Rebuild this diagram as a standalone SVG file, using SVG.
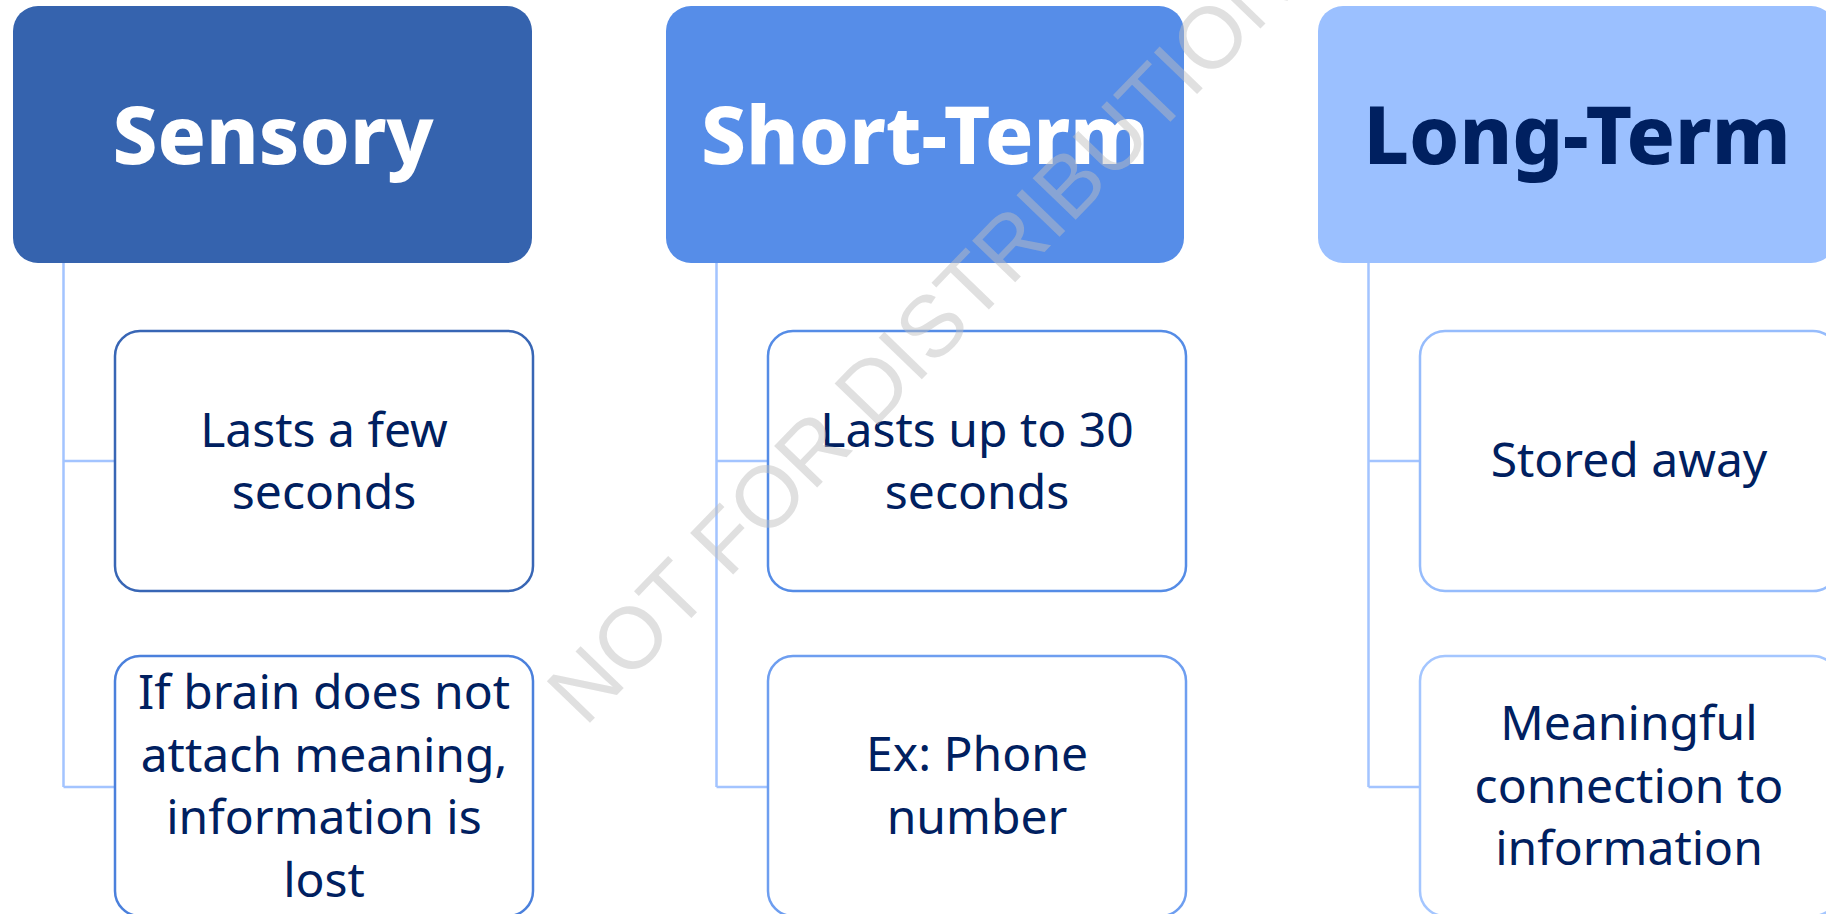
<svg xmlns="http://www.w3.org/2000/svg" width="1826" height="914" viewBox="0 0 1826 914">
<style>
.hdr{font-family:"Noto Sans","Open Sans","Liberation Sans",sans-serif;font-weight:800;font-size:80px;text-anchor:middle}
.lbl{font-family:"Noto Sans","Open Sans","Liberation Sans",sans-serif;font-size:48px;fill:#002060;text-anchor:middle}
.card{fill:#ffffff;stroke-width:2.5}
.conn{fill:none;stroke:#a3c4ff;stroke-width:2.5}
.wm{font-family:"Liberation Sans",Arial,sans-serif;font-size:87px;fill:#bfbfbf;fill-opacity:0.48}
</style>
<rect width="1826" height="914" fill="#ffffff"/>
<g id="connectors">
<path class="conn" d="M63.5 263V787M63.5 461H115M63.5 787H115"/>
<path class="conn" d="M716.5 263V787M716.5 461H768M716.5 787H768"/>
<path class="conn" d="M1368.5 263V787M1368.5 461H1420M1368.5 787H1420"/>
</g>
<g id="sensory">
<rect x="13" y="6" width="519" height="257" rx="25" fill="#3563ae"/>
<text class="hdr" x="273" y="164" fill="#ffffff">Sensory</text>
</g>
<g id="short-term">
<rect x="666" y="6" width="518" height="257" rx="25" fill="#568de8"/>
<text class="hdr" x="925" y="164" fill="#ffffff">Short-Term</text>
</g>
<g id="long-term">
<rect x="1318" y="6" width="518" height="257" rx="25" fill="#9bc0ff"/>
<text class="hdr" x="1577" y="164" fill="#002060">Long-Term</text>
</g>
<g id="sensory-1">
<rect class="card" x="115" y="331" width="418" height="260" rx="25" stroke="#3866b5"/>
<text class="lbl" x="324" y="447">Lasts a few</text>
<text class="lbl" x="324" y="509">seconds</text>
</g>
<g id="sensory-2">
<rect class="card" x="115" y="656" width="418" height="260" rx="25" stroke="#4b80dc"/>
<text class="lbl" x="324" y="709">If brain does not</text>
<text class="lbl" x="324" y="772">attach meaning,</text>
<text class="lbl" x="324" y="834">information is</text>
<text class="lbl" x="324" y="897">lost</text>
</g>
<g id="short-1">
<rect class="card" x="768" y="331" width="418" height="260" rx="25" stroke="#558ce6"/>
<text class="lbl" x="977" y="447">Lasts up to 30</text>
<text class="lbl" x="977" y="509">seconds</text>
</g>
<g id="short-2">
<rect class="card" x="768" y="656" width="418" height="260" rx="25" stroke="#6e9ef0"/>
<text class="lbl" x="977" y="771">Ex: Phone</text>
<text class="lbl" x="977" y="834">number</text>
</g>
<g id="long-1">
<rect class="card" x="1420" y="331" width="418" height="260" rx="25" stroke="#96bcfc"/>
<text class="lbl" x="1629" y="477">Stored away</text>
</g>
<g id="long-2">
<rect class="card" x="1420" y="656" width="418" height="260" rx="25" stroke="#a4c6ff"/>
<text class="lbl" x="1629" y="740">Meaningful</text>
<text class="lbl" x="1629" y="803">connection to</text>
<text class="lbl" x="1629" y="865">information</text>
</g>
<text class="wm" transform="translate(585 728) rotate(-46)">NOT FOR DISTRIBUTION</text>
</svg>
